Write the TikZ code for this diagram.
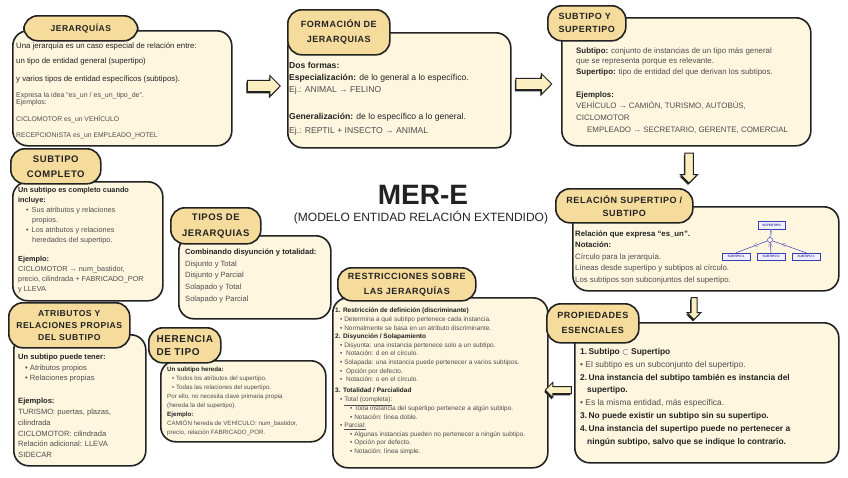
\documentclass[tikz,border=0pt]{standalone}
\usepackage{fontspec}
\setmainfont{Liberation Sans}
\newfontfamily\tabfont{Liberation Sans}[LetterSpace=6]
\usetikzlibrary{shapes.arrows,shadows}
\definecolor{bodyfill}{HTML}{FEF6DF}
\definecolor{tabfill}{HTML}{F6DC9C}
\definecolor{inkdark}{HTML}{222222}
\definecolor{inkgray}{HTML}{4D4D4D}
\definecolor{arrowfill}{HTML}{FBEFC2}
\definecolor{miniblue}{HTML}{3C3CB4}

\begin{document}
\begin{tikzpicture}[x=1pt, y=-1pt,
    body/.style={draw=inkdark, line width=1.6pt, rounded corners=15pt, fill=bodyfill,
                 anchor=north west, inner sep=0},
    tab/.style={draw=inkdark, line width=1.6pt, rounded corners=14pt, fill=tabfill,
                anchor=north west, inner sep=0, align=center, text=inkdark},
    txt/.style={anchor=north west, inner sep=0, align=left, text=inkgray},
    blockarrow/.style={single arrow, draw=inkdark, line width=1pt, fill=arrowfill,
                inner sep=4pt, single arrow head extend=4pt,
                drop shadow={shadow xshift=-1pt, shadow yshift=-1.8pt, fill=inkdark, opacity=1}},
    minibox/.style={draw=miniblue, line width=0.5pt, fill=blue!6, inner sep=0.5pt,
                font=\fontsize{3.2}{3.5}\selectfont\bfseries, text=miniblue}]
    \useasboundingbox (0,0) rectangle (848,477);

    \node[body, minimum width=219, minimum height=115] (jerBody)    at (12,30)   {};
    \node[body, minimum width=223, minimum height=115] (formBody)   at (287,32)  {};
    \node[body, minimum width=249, minimum height=128] (subBody)    at (561,17)  {};
    \node[body, minimum width=150, minimum height=119] (compBody)   at (12,181)  {};
    \node[body, minimum width=152, minimum height=83]  (tiposBody)  at (178,235) {};
    \node[body, minimum width=215, minimum height=170] (restrBody)  at (332,297) {};
    \node[body, minimum width=266, minimum height=84]  (relBody)    at (572,206) {};
    \node[body, minimum width=264, minimum height=140] (propBody)   at (574,322) {};
    \node[body, minimum width=132, minimum height=131] (atrBody)    at (13,334)  {};
    \node[body, minimum width=165, minimum height=81]  (herBody)    at (160,360) {};

    \node[tab, minimum width=114, minimum height=25, font=\fontsize{8.5}{15}\selectfont\tabfont\bfseries]
        (jerTab)   at (23,15)  {JERARQUÍAS};
    \node[tab, minimum width=102, minimum height=45, font=\fontsize{9}{15}\selectfont\tabfont\bfseries]
        (formTab)  at (287,9)  {FORMACIÓN DE\\JERARQUIAS};
    \node[tab, minimum width=78, minimum height=35, font=\fontsize{9}{13}\selectfont\tabfont\bfseries, align=left]
        (subTab)   at (547,5)  {SUBTIPO Y\\SUPERTIPO};
    \node[tab, minimum width=90, minimum height=35, font=\fontsize{9.5}{15}\selectfont\tabfont\bfseries]
        (compTab)  at (10,148) {SUBTIPO\\COMPLETO};
    \node[tab, minimum width=90, minimum height=36, font=\fontsize{9.5}{16}\selectfont\tabfont\bfseries]
        (tiposTab) at (170,207) {TIPOS DE\\JERARQUIAS};
    \node[tab, minimum width=138, minimum height=33, font=\fontsize{9}{15}\selectfont\tabfont\bfseries]
        (restrTab) at (337,267) {RESTRICCIONES SOBRE\\LAS JERARQUÍAS};
    \node[tab, minimum width=137, minimum height=34, font=\fontsize{9}{13}\selectfont\tabfont\bfseries]
        (relTab)   at (555,188) {RELACIÓN SUPERTIPO /\\SUBTIPO};
    \node[tab, minimum width=92, minimum height=39, font=\fontsize{9}{15}\selectfont\tabfont\bfseries]
        (propTab)  at (546,303) {PROPIEDADES\\ESENCIALES};
    \node[tab, minimum width=121, minimum height=45, font=\fontsize{8.6}{12}\selectfont\tabfont\bfseries]
        (atrTab)   at (8,302)  {ATRIBUTOS Y\\RELACIONES PROPIAS\\DEL SUBTIPO};
    \node[tab, minimum width=72, minimum height=35, font=\fontsize{10}{13}\selectfont\tabfont\bfseries, align=left]
        (herTab)   at (148,327) {HERENCIA\\DE TIPO};

    \node[text=inkdark, font=\fontsize{28}{30}\selectfont\bfseries] (meTitle) at (423,195) {MER-E};
    \node[text=inkdark, font=\fontsize{12}{14}\selectfont] (meSubtitle) at (421,218)
        {(MODELO ENTIDAD RELACIÓN EXTENDIDO)};

    \node[txt, font=\fontsize{7.8}{10}\selectfont] (jerText) at (16,43) {%
        {\color{inkdark}Una jerarquía es un caso especial de relación entre:}\\[5pt]
        {\color{inkdark}un tipo de entidad general (supertipo)}\\[8pt]
        {\color{inkdark}y varios tipos de entidad específicos (subtipos).}\\[6pt]
        {\fontsize{7}{10}\selectfont Expresa la idea “es\_un / es\_un\_tipo\_de”.}\\[-3pt]
        {\fontsize{7}{10}\selectfont Ejemplos:}\\[7pt]
        {\fontsize{6.8}{10}\selectfont CICLOMOTOR es\_un VEHÍCULO}\\[6pt]
        {\fontsize{6.8}{10}\selectfont RECEPCIONISTA es\_un EMPLEADO\_HOTEL}};

    \node[txt, text=inkdark, font=\fontsize{8.6}{12}\selectfont] (formText) at (289,62) {%
        \textbf{Dos formas:}\\
        \textbf{Especialización:} de lo general a lo específico.\\
        {\color{inkgray}Ej.: ANIMAL → FELINO}\\[15pt]
        \textbf{Generalización:} de lo específico a lo general.\\[2pt]
        {\color{inkgray}Ej.: REPTIL + INSECTO → ANIMAL}};

    \node[txt, font=\fontsize{7.9}{11}\selectfont] (subText) at (576,47.5) {%
        {\bfseries\color{inkdark}Subtipo:} conjunto de instancias de un tipo más general\\[-1pt]
        que se representa porque es relevante.\\
        {\bfseries\color{inkdark}Supertipo:} tipo de entidad del que derivan los subtipos.\\[12pt]
        {\bfseries\color{inkdark}Ejemplos:}\\
        VEHÍCULO → CAMIÓN, TURISMO, AUTOBÚS,\\[1pt]
        CICLOMOTOR\\[1pt]
        \hspace*{11pt}EMPLEADO → SECRETARIO, GERENTE, COMERCIAL};

    \node[txt, font=\fontsize{7.3}{10}\selectfont] (compText) at (18,187.5) {%
        {\bfseries\color{inkdark}Un subtipo es completo cuando}\\
        {\bfseries\color{inkdark}incluye:}\\
        \hspace*{8pt}\textbullet\hspace{3pt}Sus atributos y relaciones\\
        \hspace*{14pt}propios.\\
        \hspace*{8pt}\textbullet\hspace{3pt}Los atributos y relaciones\\
        \hspace*{14pt}heredados del supertipo.\\[9pt]
        {\bfseries\color{inkdark}Ejemplo:}\\
        CICLOMOTOR → num\_bastidor,\\
        precio, cilindrada + FABRICADO\_POR\\
        y LLEVA};

    \node[txt, font=\fontsize{7.6}{11.8}\selectfont] (tiposText) at (185,248.5) {%
        {\bfseries\color{inkdark}Combinando disyunción y totalidad:}\\
        Disjunto y Total\\
        Disjunto y Parcial\\
        Solapado y Total\\
        Solapado y Parcial};

    \node[txt, font=\fontsize{6.5}{8.6}\selectfont] (restrText) at (335,308) {%
        {\bfseries\color{inkdark}1. Restricción de definición (discriminante)}\\
        \hspace*{5pt}\textbullet\ Determina a qué subtipo pertenece cada instancia.\\
        \hspace*{5pt}\textbullet\ Normalmente se basa en un atributo discriminante.\\
        {\bfseries\color{inkdark}2. Disyunción / Solapamiento}\\
        \hspace*{5pt}\textbullet\ Disyunta: una instancia pertenece solo a un subtipo.\\
        \hspace*{5pt}\textbullet\ \ Notación: d en el círculo.\\
        \hspace*{5pt}\textbullet\ Solapada: una instancia puede pertenecer a varios subtipos.\\
        \hspace*{5pt}\textbullet\ \ Opción por defecto.\\
        \hspace*{5pt}\textbullet\ \ Notación: o en el círculo.\\[2pt]
        {\bfseries\color{inkdark}3. Totalidad / Parcialidad}\\[1pt]
        \hspace*{5pt}\textbullet\ \underline{Total (completa):}\\
        \hspace*{15pt}\textbullet\ Toda instancia del supertipo pertenece a algún subtipo.\\
        \hspace*{15pt}\textbullet\ Notación: línea doble.\\
        \hspace*{5pt}\textbullet\ \underline{Parcial:}\\
        \hspace*{15pt}\textbullet\ Algunas instancias pueden no pertenecer a ningún subtipo.\\
        \hspace*{15pt}\textbullet\ Opción por defecto.\\
        \hspace*{15pt}\textbullet\ Notación: línea simple.};

    \node[txt, font=\fontsize{7.8}{11.5}\selectfont] (relText) at (575,230.5) {%
        {\bfseries\color{inkdark}Relación que expresa “es\_un”.}\\
        {\bfseries\color{inkdark}Notación:}\\
        Círculo para la jerarquía.\\
        Líneas desde supertipo y subtipos al círculo.\\
        Los subtipos son subconjuntos del supertipo.};

    \node[txt, font=\fontsize{8.4}{12.9}\selectfont] (propText) at (580,348) {%
        {\bfseries\color{inkdark}1.\,Subtipo $\subset$ Supertipo}\\
        \textbullet\ El subtipo es un subconjunto del supertipo.\\
        {\bfseries\color{inkdark}2.\,Una instancia del subtipo también es instancia del}\\
        {\bfseries\color{inkdark}\hspace*{7pt}supertipo.}\\
        \textbullet\ Es la misma entidad, más específica.\\
        {\bfseries\color{inkdark}3.\,No puede existir un subtipo sin su supertipo.}\\
        {\bfseries\color{inkdark}4.\,Una instancia del supertipo puede no pertenecer a}\\
        {\bfseries\color{inkdark}\hspace*{7pt}ningún subtipo, salvo que se indique lo contrario.}};

    \node[txt, font=\fontsize{7.6}{10.8}\selectfont] (atrText) at (18,353.5) {%
        {\bfseries\color{inkdark}Un subtipo puede tener:}\\
        \hspace*{7pt}\textbullet\ Atributos propios\\
        \hspace*{7pt}\textbullet\ Relaciones propias\\[12pt]
        {\bfseries\color{inkdark}Ejemplos:}\\
        TURISMO: puertas, plazas,\\
        cilindrada\\
        CICLOMOTOR: cilindrada\\
        Relación adicional: LLEVA\\
        SIDECAR};

    \node[txt, font=\fontsize{6.2}{9}\selectfont] (herText) at (167,366.3) {%
        {\bfseries\color{inkdark}Un subtipo hereda:}\\
        \hspace*{5pt}\textbullet\ Todos los atributos del supertipo.\\
        \hspace*{5pt}\textbullet\ Todas las relaciones del supertipo.\\
        Por ello, no necesita clave primaria propia\\
        (hereda la del supertipo).\\
        {\bfseries\color{inkdark}Ejemplo:}\\
        CAMIÓN hereda de VEHÍCULO: num\_bastidor,\\
        precio, relación FABRICADO\_POR.};

    \node[minibox, minimum width=27, minimum height=8] (mSup)  at (771.5,225) {SUPERTIPO};
    \node[draw=miniblue, line width=0.5pt, fill=white, circle, minimum size=5, inner sep=0] (mCirc) at (770,240) {};
    \node[minibox, minimum width=28, minimum height=7] (mSub1) at (736,256.5) {SUBTIPO 1};
    \node[minibox, minimum width=28, minimum height=7] (mSub2) at (771,256.5) {SUBTIPO 2};
    \node[minibox, minimum width=28, minimum height=7] (mSub3) at (806,256.5) {SUBTIPO 3};
    \draw[miniblue, line width=0.4pt, double, double distance=0.5pt] (mSup) -- (mCirc);
    \foreach \s in {mSub1, mSub2, mSub3}
        \draw[miniblue, line width=0.5pt] (mCirc) -- (\s.north)
            node[pos=0.35, sloped, inner sep=0, font=\fontsize{4.5}{4.5}\selectfont] (mark\s) {$\subset$};

    \node[blockarrow, minimum height=33, minimum width=21] (arrA) at (261,86)  {};
    \node[blockarrow, minimum height=36, minimum width=21] (arrB) at (531,84)  {};
    \node[blockarrow, shape border rotate=270, minimum height=30, minimum width=17, inner sep=3.5pt] (arrC) at (689,166) {};
    \node[blockarrow, shape border rotate=270, minimum height=22, minimum width=13, inner sep=2.5pt] (arrD) at (694,307) {};
    \node[blockarrow, shape border rotate=180, minimum height=26, minimum width=15, inner sep=3pt] (arrE) at (560,390) {};
\end{tikzpicture}
\end{document}
